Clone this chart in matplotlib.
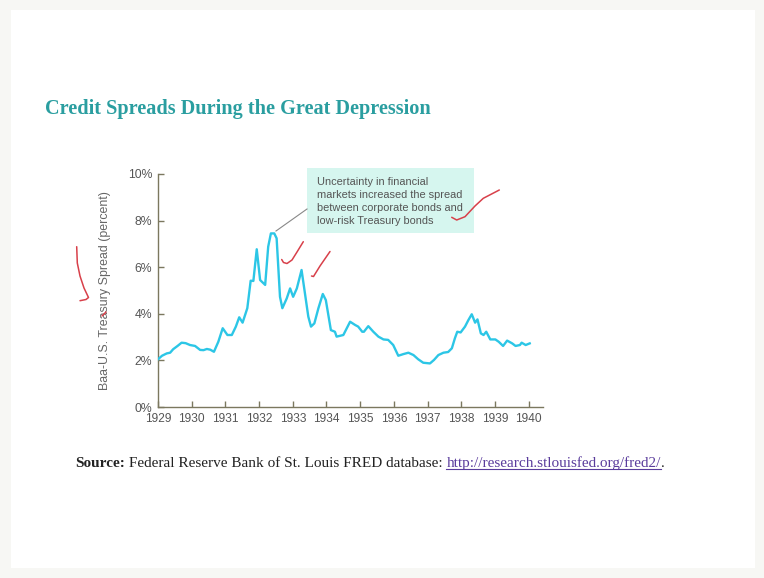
import matplotlib
matplotlib.use("Agg")
import matplotlib.pyplot as plt
from matplotlib.lines import Line2D
from matplotlib.patches import Rectangle

# ---- data ----
dates = [1929.00, 1929.12, 1929.26, 1929.36, 1929.45, 1929.58, 1929.70, 1929.82, 1929.95,
         1930.10, 1930.25, 1930.35, 1930.45, 1930.55, 1930.66, 1930.79, 1930.92,
         1931.06, 1931.19, 1931.31, 1931.41, 1931.51, 1931.65, 1931.75, 1931.83, 1931.93,
         1932.03, 1932.18, 1932.27, 1932.35, 1932.45, 1932.52, 1932.62, 1932.69, 1932.82, 1932.92,
         1933.01, 1933.12, 1933.26, 1933.36, 1933.46, 1933.54, 1933.64, 1933.76, 1933.89, 1933.98,
         1934.13, 1934.25, 1934.30, 1934.50, 1934.70, 1934.85, 1934.94,
         1935.06, 1935.11, 1935.24, 1935.39, 1935.54, 1935.69, 1935.83, 1935.98,
         1936.13, 1936.28, 1936.43, 1936.58, 1936.72, 1936.87,
         1937.07, 1937.19, 1937.32, 1937.47, 1937.61, 1937.72, 1937.81, 1937.88, 1937.98,
         1938.11, 1938.21, 1938.31, 1938.41, 1938.48, 1938.58, 1938.66, 1938.74, 1938.86,
         1939.01, 1939.11, 1939.24, 1939.36, 1939.51, 1939.61, 1939.74, 1939.79, 1939.91, 1940.03]
spread = [2.05, 2.20, 2.30, 2.33, 2.48, 2.62, 2.76, 2.74, 2.66,
          2.62, 2.45, 2.44, 2.49, 2.46, 2.37, 2.80, 3.38,
          3.09, 3.09, 3.45, 3.85, 3.62, 4.24, 5.42, 5.41, 6.77,
          5.45, 5.24, 6.88, 7.45, 7.45, 7.24, 4.73, 4.24, 4.66, 5.09,
          4.73, 5.09, 5.88, 4.88, 3.88, 3.45, 3.59, 4.24, 4.85, 4.59,
          3.30, 3.23, 3.02, 3.09, 3.66, 3.52, 3.45,
          3.23, 3.23, 3.47, 3.23, 3.02, 2.90, 2.88, 2.66,
          2.20, 2.27, 2.33, 2.23, 2.05, 1.90,
          1.87, 2.02, 2.23, 2.33, 2.36, 2.52, 2.95, 3.23, 3.20,
          3.45, 3.73, 3.98, 3.62, 3.76, 3.16, 3.09, 3.23, 2.90,
          2.90, 2.80, 2.62, 2.85, 2.73, 2.62, 2.66, 2.76, 2.66, 2.73]
year_ticks = list(range(1929, 1941))
pct_ticks = [0, 2, 4, 6, 8, 10]

title = "Credit Spreads During the Great Depression"
ylabel = "Baa-U.S. Treasury Spread (percent)"
note = "Uncertainty in financial\nmarkets increased the spread\nbetween corporate bonds and\nlow-risk Treasury bonds"

W, H = 764, 578
fig = plt.figure(figsize=(W / 100, H / 100), dpi=100)
fig.patch.set_facecolor("#f7f7f4")

def px(x, y):
    return x / W, 1 - y / H

# slide area
fig.patches.append(Rectangle(px(11, 568), (755 - 11) / W, (568 - 10) / H,
                             transform=fig.transFigure, facecolor="white",
                             edgecolor="none", zorder=-5))

left, right, top, bottom = 158, 543, 174, 407
ax = fig.add_axes([left / W, 1 - bottom / H, (right - left) / W, (bottom - top) / H])
ax.set_zorder(2)
ax.set_facecolor("none")
ax.plot(dates, spread, color="#2cc6e6", lw=1.7, solid_joinstyle="round", zorder=3)
ax.set_xlim(1929, 1929 + (right - left) / 33.7)
ax.set_ylim(0, 10)
ax.set_xticks(year_ticks)
ax.set_xticklabels([str(y) for y in year_ticks])
ax.set_yticks(pct_ticks)
ax.set_yticklabels([f"{v}%" for v in pct_ticks])
spc = "#7b785f"
for s in ["top", "right"]:
    ax.spines[s].set_visible(False)
for s in ["left", "bottom"]:
    ax.spines[s].set_color(spc)
    ax.spines[s].set_linewidth(1.0)
ax.tick_params(axis="both", direction="in", length=4, width=1.0, color=spc,
               labelcolor="#555555")
ax.tick_params(axis="x", labelsize=8.6, pad=4.5)
ax.tick_params(axis="y", labelsize=8.8, pad=4)
for lab in ax.get_xticklabels() + ax.get_yticklabels():
    lab.set_family("Liberation Sans")
ax.set_ylabel(ylabel, family="Liberation Sans", fontsize=8.9, color="#666666")
ax.yaxis.set_label_coords((111 - left) / (right - left), 0.5)

# annotation box and leader line
fig.patches.append(Rectangle(px(307, 232.5), (474 - 307) / W, (232.5 - 168) / H,
                             transform=fig.transFigure, facecolor="#d6f6ef",
                             edgecolor="none", zorder=1))
fig.text(*px(317, 177), note, family="Liberation Sans", fontsize=7.9,
         color="#555555", va="top", ha="left", linespacing=1.37, zorder=4)
fig.add_artist(Line2D([307 / W, 276 / W], [1 - 209 / H, 1 - 231 / H],
                      transform=fig.transFigure, color="#888888", lw=0.8, zorder=4))

# title
fig.text(*px(45, 109), title, family="Liberation Serif", fontweight="bold",
         fontsize=14.6, color="#2a9ea0", va="center", ha="left")

# source line
fig.canvas.draw()
r = fig.canvas.get_renderer()
fs = 11.03
x0, yb = px(75, 467)
t1 = fig.text(x0, yb, "Source:", family="Liberation Serif", fontweight="bold",
              fontsize=fs, color="#222222", va="baseline")
w1 = t1.get_window_extent(r).width / W
t2 = fig.text(x0 + w1, yb, " Federal Reserve Bank of St. Louis FRED database: ",
              family="Liberation Serif", fontsize=fs, color="#222222", va="baseline")
w2 = t2.get_window_extent(r).width / W
t3 = fig.text(x0 + w1 + w2, yb, "http://research.stlouisfed.org/fred2/",
              family="Liberation Serif", fontsize=fs, color="#5a3c9c", va="baseline")
w3 = t3.get_window_extent(r).width / W
fig.add_artist(Line2D([x0 + w1 + w2, x0 + w1 + w2 + w3], [yb - 2 / H, yb - 2 / H],
                      transform=fig.transFigure, color="#5a3c9c", lw=0.8))
fig.text(x0 + w1 + w2 + w3, yb, ".", family="Liberation Serif", fontsize=fs,
         color="#222222", va="baseline")

# handwritten red ink marks
ink = "#d8404a"
strokes = [
    [(76.7, 246.7), (77.3, 263), (80, 276), (84, 288), (88.5, 297.5), (86, 299.5), (80, 300.7)],
    [(281.7, 259.5), (283.5, 262.5), (287, 263.5), (292, 260), (297, 252), (303.3, 241.7)],
    [(311.5, 276), (313.5, 276.5), (320, 266), (330, 251.5)],
    [(451.7, 217.3), (456.7, 220), (465, 216.7), (475, 206), (483.3, 198.3), (499.3, 190)],
    [(102, 316), (106, 312)],
]
for st in strokes:
    xs = [p[0] / W for p in st]
    ys = [1 - p[1] / H for p in st]
    fig.add_artist(Line2D(xs, ys, transform=fig.transFigure, color=ink, lw=1.1,
                          solid_capstyle="round", solid_joinstyle="round", zorder=5))

fig.savefig("out.png", dpi=100, facecolor=fig.get_facecolor())
